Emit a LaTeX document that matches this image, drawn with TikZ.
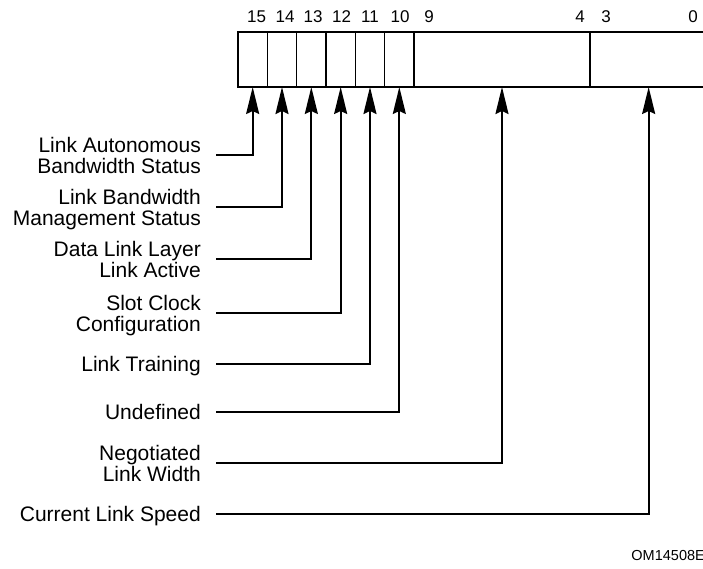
\documentclass[tikz,border=0pt]{standalone}
\usepackage{fontspec}
\setmainfont{Liberation Sans}
\usetikzlibrary{arrows.meta}
\begin{document}
\begin{tikzpicture}[x=1pt,y=-1pt,
  cell/.style={draw, line width=1.1pt, minimum height=55pt, inner sep=0pt, outer sep=0pt, anchor=north west},
  bitnum/.style={font=\fontsize{17}{17}\selectfont, inner sep=0pt, text height=12pt, text depth=0pt},
  lab/.style={font=\fontsize{21}{21}\selectfont, align=right, anchor=east, inner xsep=15pt, inner ysep=0pt},
  labone/.style={lab, text height=15pt, text depth=0pt},
  conn/.style={line width=1.8pt, -{Stealth[length=27pt, width=13pt, inset=3pt]}},
  tag/.style={font=\fontsize{14.5}{14.5}\selectfont, anchor=east, inner sep=0pt, text height=10.5pt, text depth=0pt}
]
\useasboundingbox (0,0) rectangle (703,568);

% register cells
\node[cell, minimum width=29.33pt] (b15) at (238,32) {};
\node[cell, minimum width=29.33pt] (b14) at (b15.north east) {};
\node[cell, minimum width=29.33pt] (b13) at (b14.north east) {};
\node[cell, minimum width=29.33pt] (b12) at (b13.north east) {};
\node[cell, minimum width=29.33pt] (b11) at (b12.north east) {};
\node[cell, minimum width=29.33pt] (b10) at (b11.north east) {};
\node[cell, minimum width=176pt] (f94) at (b10.north east) {};
\node[cell, minimum width=117.33pt] (f30) at (f94.north east) {};

% bit numbers
\node[bitnum] (n15) at (256.5,16) {15};
\node[bitnum] (n14) at (285,16) {14};
\node[bitnum] (n13) at (313,16) {13};
\node[bitnum] (n12) at (341.5,16) {12};
\node[bitnum] (n11) at (370,16) {11};
\node[bitnum] (n10) at (400,16) {10};
\node[bitnum] (n9) at (429,16) {9};
\node[bitnum] (n4) at (580,16) {4};
\node[bitnum] (n3) at (606,16) {3};
\node[bitnum] (n0) at (693,16) {0};

% labels
\node[lab] (l15) at (216,155) {Link Autonomous\\Bandwidth Status};
\node[lab] (l14) at (216,207) {Link Bandwidth\\\smash{Management Status}};
\node[lab] (l13) at (216,259) {Data Link Layer\\Link Active};
\node[lab] (l12) at (216,313) {Slot Clock\\\smash{Configuration}};
\node[labone] (l11) at (216,364) {Link Training};
\node[labone] (l10) at (216,412) {Undefined};
\node[lab] (lnw) at (216,463) {Negotiated\\Link Width};
\node[labone] (lcs) at (216,514) {Current Link Speed};

% connectors
\draw[conn] (l15.east) -| (b15.south);
\draw[conn] (l14.east) -| (b14.south);
\draw[conn] (l13.east) -| (b13.south);
\draw[conn] (l12.east) -| (b12.south);
\draw[conn] (l11.east) -| (b11.south);
\draw[conn] (l10.east) -| (b10.south);
\draw[conn] (lnw.east) -| (f94.south);
\draw[conn] (lcs.east) -| (f30.south);

\node[tag] (om) at (705,555) {OM14508E};
\end{tikzpicture}
\end{document}
